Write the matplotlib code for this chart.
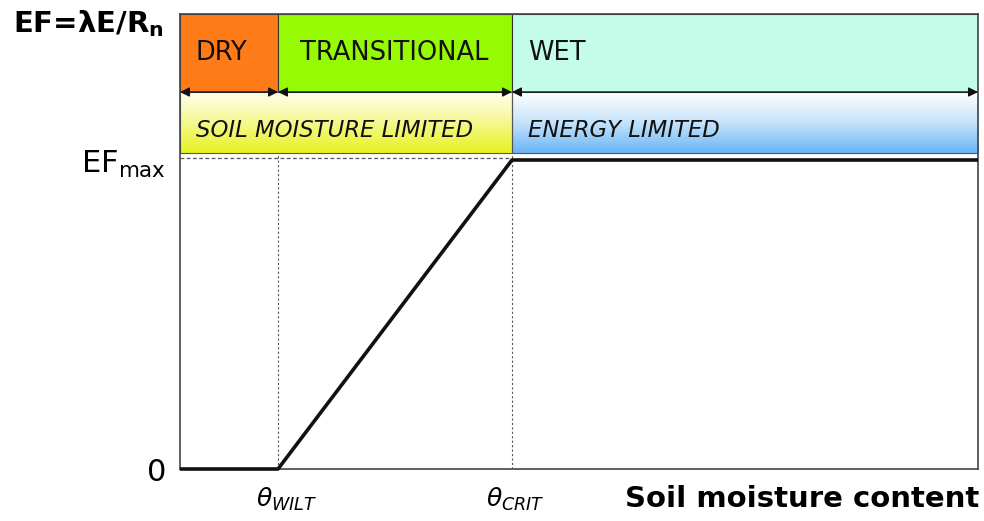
import numpy as np
import matplotlib
matplotlib.use("Agg")
import matplotlib.pyplot as plt
from matplotlib.colors import LinearSegmentedColormap

plt.rcParams['font.family'] = ['DejaVu Sans']
plt.rcParams['mathtext.fontset'] = 'dejavusans'

# Data (normalized units)
theta_wilt = 0.1228
theta_crit = 0.416
x_max = 1.0
ef_max = 1.0
curve_x = [0.0, theta_wilt, theta_crit, x_max]
curve_y = [0.0, 0.0, ef_max, ef_max]

regimes = ["DRY", "TRANSITIONAL", "WET"]
regime_edges = [0.0, theta_wilt, theta_crit, x_max]
regime_colors = ["#FF7B17", "#97FA05", "#C3FCE8"]
limits = ["SOIL MOISTURE LIMITED", "ENERGY LIMITED"]
limit_edges = [0.0, theta_crit, x_max]

# Geometry of bands in y units
y_top = 1.4725
y_band_split = 1.220
y_band_low = 1.0227

W, H = 984, 521
def fx(x):
    return x / W
def fy(y):
    return 1 - y / H

fig = plt.figure(figsize=(9.84, 5.21), dpi=100)
ax = fig.add_axes([180/W, (H-469)/H, 798/W, 455/H])
ax.set_xlim(0, x_max)
ax.set_ylim(0, y_top)
ax.set_xticks([])
ax.set_yticks([])
for s in ax.spines.values():
    s.set_color("#444444")
    s.set_linewidth(1.2)

# pixel offsets in data units
dx_px = x_max / 798
dy_px = y_top / 455

# Regime boxes
text_offsets = [16, 22, 16]
for i, name in enumerate(regimes):
    x0, x1 = regime_edges[i], regime_edges[i+1]
    ax.add_patch(plt.Rectangle((x0, y_band_split), x1-x0, y_top-y_band_split,
                               facecolor=regime_colors[i], edgecolor="#333333", lw=0.8, zorder=1))
    ax.text(x0 + text_offsets[i]*dx_px, y_top - 46*dy_px, name, fontsize=18.5,
            va="baseline", ha="left", color="#111111", zorder=5)

# Gradient bands
cm_soil = LinearSegmentedColormap.from_list("soil", ["#FFFFF0", "#F6F890", "#E6F21E"])
cm_energy = LinearSegmentedColormap.from_list("energy", ["#FFFFFF", "#C5E3FB", "#6AB4F6"])
grad = np.linspace(0, 1, 256).reshape(-1, 1)
for (x0, x1), cm in zip([(limit_edges[0], limit_edges[1]), (limit_edges[1], limit_edges[2])],
                        [cm_soil, cm_energy]):
    ax.imshow(grad, extent=(x0, x1, y_band_low, y_band_split), origin="upper",
              cmap=cm, aspect="auto", zorder=1)
    ax.add_patch(plt.Rectangle((x0, y_band_low), x1-x0, y_band_split-y_band_low,
                               facecolor="none", edgecolor="#555555", lw=0.8, zorder=2))
for i, name in enumerate(limits):
    x0 = limit_edges[i]
    ax.text(x0 + 16*dx_px, 332*dy_px, name, fontsize=16.4,
            style="italic", va="baseline", ha="left", color="#111111", zorder=5)

# Double-headed arrows
for i in range(len(regimes)):
    x0, x1 = regime_edges[i], regime_edges[i+1]
    ax.annotate("", xy=(x1, y_band_split), xytext=(x0, y_band_split),
                arrowprops=dict(arrowstyle="<|-|>", color="#111111", lw=1.0,
                                mutation_scale=14, shrinkA=0, shrinkB=0), zorder=6)

# Dashed guide lines
ax.plot([0, theta_crit], [ef_max + 0.008, ef_max + 0.008], ls=(0, (3, 2)), color="#555555", lw=0.9, zorder=3)
ax.plot([theta_wilt, theta_wilt], [0, y_band_low], ls=(0, (2, 2)), color="#555555", lw=0.8, zorder=3)
ax.plot([theta_crit, theta_crit], [0, y_band_low], ls=(0, (2, 2)), color="#555555", lw=0.8, zorder=3)

# Curve
ax.plot(curve_x, curve_y, color="#111111", lw=2.6, solid_capstyle="butt", zorder=4, clip_on=False)

# Axis labels
fig.text(fx(13), fy(32), r"EF=λE/R$_\mathbf{n}$", fontsize=21, fontweight="bold",
         ha="left", va="baseline")
fig.text(fx(166), fy(173), r"EF$_{\mathregular{max}}$", fontsize=22, ha="right", va="baseline")
fig.text(fx(166), fy(481), "0", fontsize=22, ha="right", va="baseline")
fig.text(fx(256), fy(507), r"$\theta_{\mathit{WILT}}$", fontsize=18, ha="left", va="baseline")
fig.text(fx(486), fy(507), r"$\theta_{\mathit{CRIT}}$", fontsize=18, ha="left", va="baseline")
fig.text(fx(979), fy(507), "Soil moisture content", fontsize=21, fontweight="bold",
         ha="right", va="baseline")

fig.savefig("out.png", dpi=100)
